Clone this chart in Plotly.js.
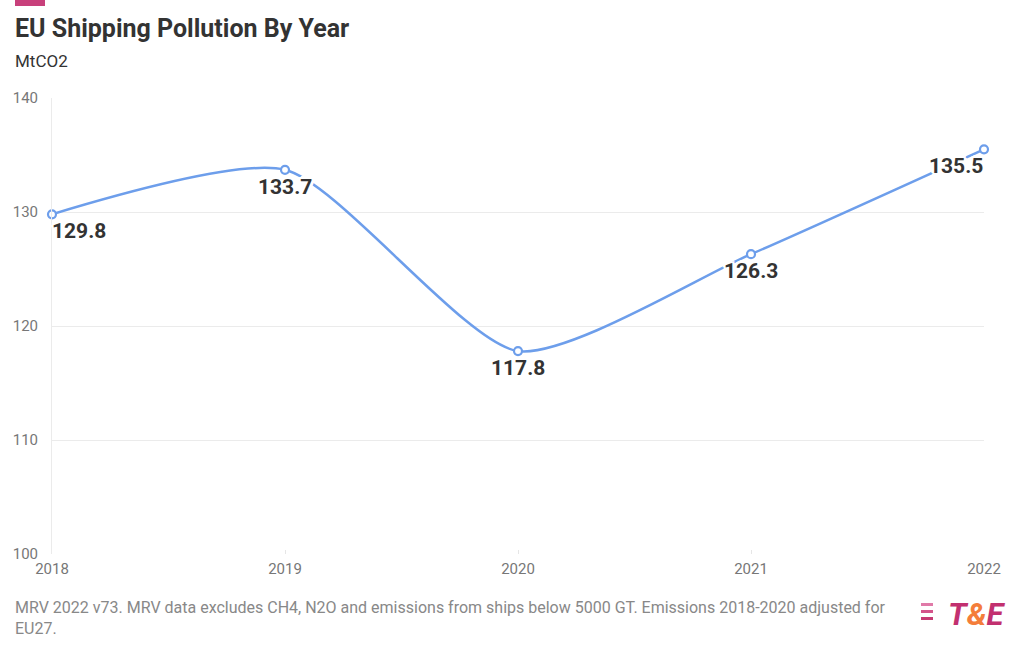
<!DOCTYPE html>
<html>
<head>
<meta charset="utf-8">
<script src="https://cdn.plot.ly/plotly-3.0.1.min.js"></script>
<style>html,body{margin:0;padding:0;background:#fff;}#chart{width:1020px;height:650px;}</style>
</head>
<body>
<div id="chart"></div>
<script>
const years = [2018, 2019, 2020, 2021, 2022];
const emissions = [129.8, 133.7, 117.8, 126.3, 135.5];
const labelAnchors = ['left', 'center', 'center', 'center', 'right'];
const yTicks = [100, 110, 120, 130, 140];
const titleText = 'EU Shipping Pollution By Year';
const subtitleText = 'MtCO2';
const footer1 = 'MRV 2022 v73. MRV data excludes CH4, N2O and emissions from ships below 5000 GT. Emissions 2018-2020 adjusted for';
const footer2 = 'EU27.';

const W = 1020, H = 650, L = 52, R = 984, T = 98, B = 554;
const px = x => (x - L) / (R - L);
const py = y => (B - y) / (B - T);

const halo = '-2px -2px 0 #fff, 2px -2px 0 #fff, -2px 2px 0 #fff, 2px 2px 0 #fff, 0 3px 0 #fff, 0 -3px 0 #fff, 3px 0 0 #fff, -3px 0 0 #fff';

const lineTrace = {
  x: years, y: emissions,
  type: 'scatter', mode: 'lines+markers',
  line: {color: '#6d9eeb', width: 2.5, shape: 'spline', smoothing: 0.65},
  marker: {symbol: 'circle', size: 8, color: '#fff', line: {color: '#6d9eeb', width: 2.2}},
  cliponaxis: false,
  hoverinfo: 'skip'
};

const valueLabels = years.map((yr, i) => ({
  xref: 'x', yref: 'y', x: yr, y: emissions[i],
  xanchor: labelAnchors[i], yanchor: 'middle',
  xshift: labelAnchors[i] === 'left' ? -2 : (labelAnchors[i] === 'right' ? 1 : 0),
  yshift: -17,
  showarrow: false,
  text: '<b>' + emissions[i].toFixed(1) + '</b>',
  font: {family: 'Roboto, sans-serif', size: 21, color: '#333', shadow: halo}
}));

const layout = {
  width: W, height: H,
  margin: {l: L, r: W - R, t: T, b: H - B},
  paper_bgcolor: '#fff', plot_bgcolor: '#fff',
  showlegend: false,
  font: {family: 'Roboto, sans-serif', color: '#777'},
  xaxis: {
    range: [2018, 2022], tickvals: years, ticktext: years.map(String),
    showgrid: false, zeroline: false, showline: false,
    ticks: 'inside', ticklen: 4, tickcolor: '#e6e6e6',
    tickfont: {size: 15, color: '#777'}, ticklabelstandoff: 4, fixedrange: true
  },
  yaxis: {
    range: [100, 140], tickvals: yTicks,
    showgrid: true, gridcolor: '#ebebeb', gridwidth: 1,
    zeroline: false, showline: true, linecolor: '#ebebeb', linewidth: 1,
    ticks: '', tickfont: {size: 15, color: '#777'}, ticklabelstandoff: 10, fixedrange: true
  },
  shapes: [
    {type: 'rect', xref: 'paper', yref: 'paper', x0: px(15), x1: px(45), y0: py(6), y1: py(0), fillcolor: '#c8407b', line: {width: 0}},
    {type: 'rect', xref: 'paper', yref: 'paper', x0: px(921), x1: px(933), y0: py(606), y1: py(603), fillcolor: '#e07aa8', line: {width: 0}},
    {type: 'rect', xref: 'paper', yref: 'paper', x0: px(921), x1: px(933), y0: py(613), y1: py(610), fillcolor: '#d4548b', line: {width: 0}},
    {type: 'rect', xref: 'paper', yref: 'paper', x0: px(921), x1: px(933), y0: py(620), y1: py(617), fillcolor: '#c63a73', line: {width: 0}}
  ],
  annotations: valueLabels.concat([
    {xref: 'paper', yref: 'paper', x: px(13), y: py(28), xanchor: 'left', yanchor: 'middle', showarrow: false,
     text: '<b>' + titleText + '</b>', font: {size: 25, color: '#333', family: 'Roboto, sans-serif'}},
    {xref: 'paper', yref: 'paper', x: px(13), y: py(61), xanchor: 'left', yanchor: 'middle', showarrow: false,
     text: subtitleText, font: {size: 17, color: '#333', family: 'Roboto, sans-serif'}},
    {xref: 'paper', yref: 'paper', x: px(13), y: py(607), xanchor: 'left', yanchor: 'middle', showarrow: false,
     text: footer1, font: {size: 16, color: '#888', family: 'Roboto, sans-serif'}},
    {xref: 'paper', yref: 'paper', x: px(13), y: py(628), xanchor: 'left', yanchor: 'middle', showarrow: false,
     text: footer2, font: {size: 16, color: '#888', family: 'Roboto, sans-serif'}},
    {xref: 'paper', yref: 'paper', x: px(976), y: py(614), xanchor: 'center', yanchor: 'middle', showarrow: false,
     text: '<b><i><span style="color:#c2306f">T</span><span style="color:#f47d3a">&amp;</span><span style="color:#c2306f">E</span></i></b>',
     font: {size: 31, family: 'Roboto, sans-serif'}}
  ])
};

Plotly.newPlot('chart', [lineTrace], layout, {displayModeBar: false, staticPlot: true});
</script>
</body>
</html>
